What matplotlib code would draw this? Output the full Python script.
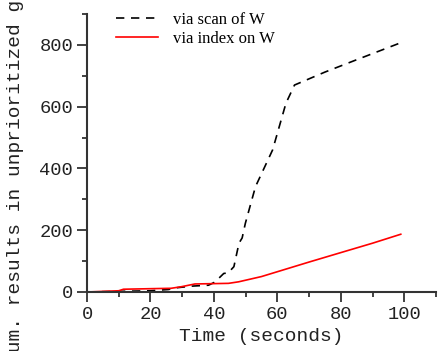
import numpy as np
import matplotlib
matplotlib.use("Agg")
import matplotlib.pyplot as plt
from matplotlib.ticker import MultipleLocator

# black dashed: via scan of W
scan_t = [0, 10, 20, 25.6, 28.5, 33, 38.3, 40.3, 43.1, 44.5, 46.3, 47.9, 48.9, 49.9,
          53.1, 58.5, 62.7, 65.4, 75, 85, 99.4]
scan_y = [0, 2, 4, 8, 14, 19, 22, 32, 60, 62, 82, 158, 175, 222,
          341, 460, 611, 670, 712, 752, 809]

# red solid: via index on W
idx_t = [0, 10, 11.5, 26.5, 29.7, 34, 44.6, 47.8, 55, 61.7, 70, 80.8, 90, 98.9]
idx_y = [0, 4, 9, 12, 17, 26, 28, 33, 50, 71, 97, 130, 158, 187]

mono = "Liberation Mono"
gray = "#333333"
txt = "#222222"

fig = plt.figure(figsize=(4.48, 3.51), dpi=100)
ax = fig.add_axes([87/448, 1 - 292/351, (436 - 87)/448, (292 - 14)/351])

ax.plot(scan_t, scan_y, color="black", lw=1.2, ls=(0, (5, 4)), label="via scan of W")
ax.plot(idx_t, idx_y, color="red", lw=1.2, label="via index on W")

ax.set_xlim(0, 110)
ax.set_ylim(0, 900)
ax.xaxis.set_major_locator(MultipleLocator(20))
ax.xaxis.set_minor_locator(MultipleLocator(10))
ax.yaxis.set_major_locator(MultipleLocator(200))
ax.yaxis.set_minor_locator(MultipleLocator(100))

for s in ["top", "right"]:
    ax.spines[s].set_visible(False)
for s in ["left", "bottom"]:
    ax.spines[s].set_color(gray)
    ax.spines[s].set_linewidth(1.5)

ax.tick_params(which="major", direction="out", length=7, width=1.3, color=gray,
               labelsize=13.5, labelcolor=txt, pad=3)
ax.tick_params(which="minor", direction="out", length=3.5, width=1.3, color=gray)
for lab in ax.get_xticklabels() + ax.get_yticklabels():
    lab.set_family(mono)

ax.set_xlabel("Time (seconds)", family=mono, fontsize=14, color=txt, labelpad=4)
ax.set_ylabel("Cum. results in unprioritized graph", family=mono, fontsize=14, color=txt)
ax.yaxis.set_label_coords(-0.18, 0.48)

ax.legend(loc="upper left", bbox_to_anchor=(0.065, 1.03), frameon=False,
          prop={"family": "Liberation Serif", "size": 12}, handlelength=2.5,
          handletextpad=0.9, labelspacing=0.15, borderaxespad=0)

fig.savefig("out.png", dpi=100)
